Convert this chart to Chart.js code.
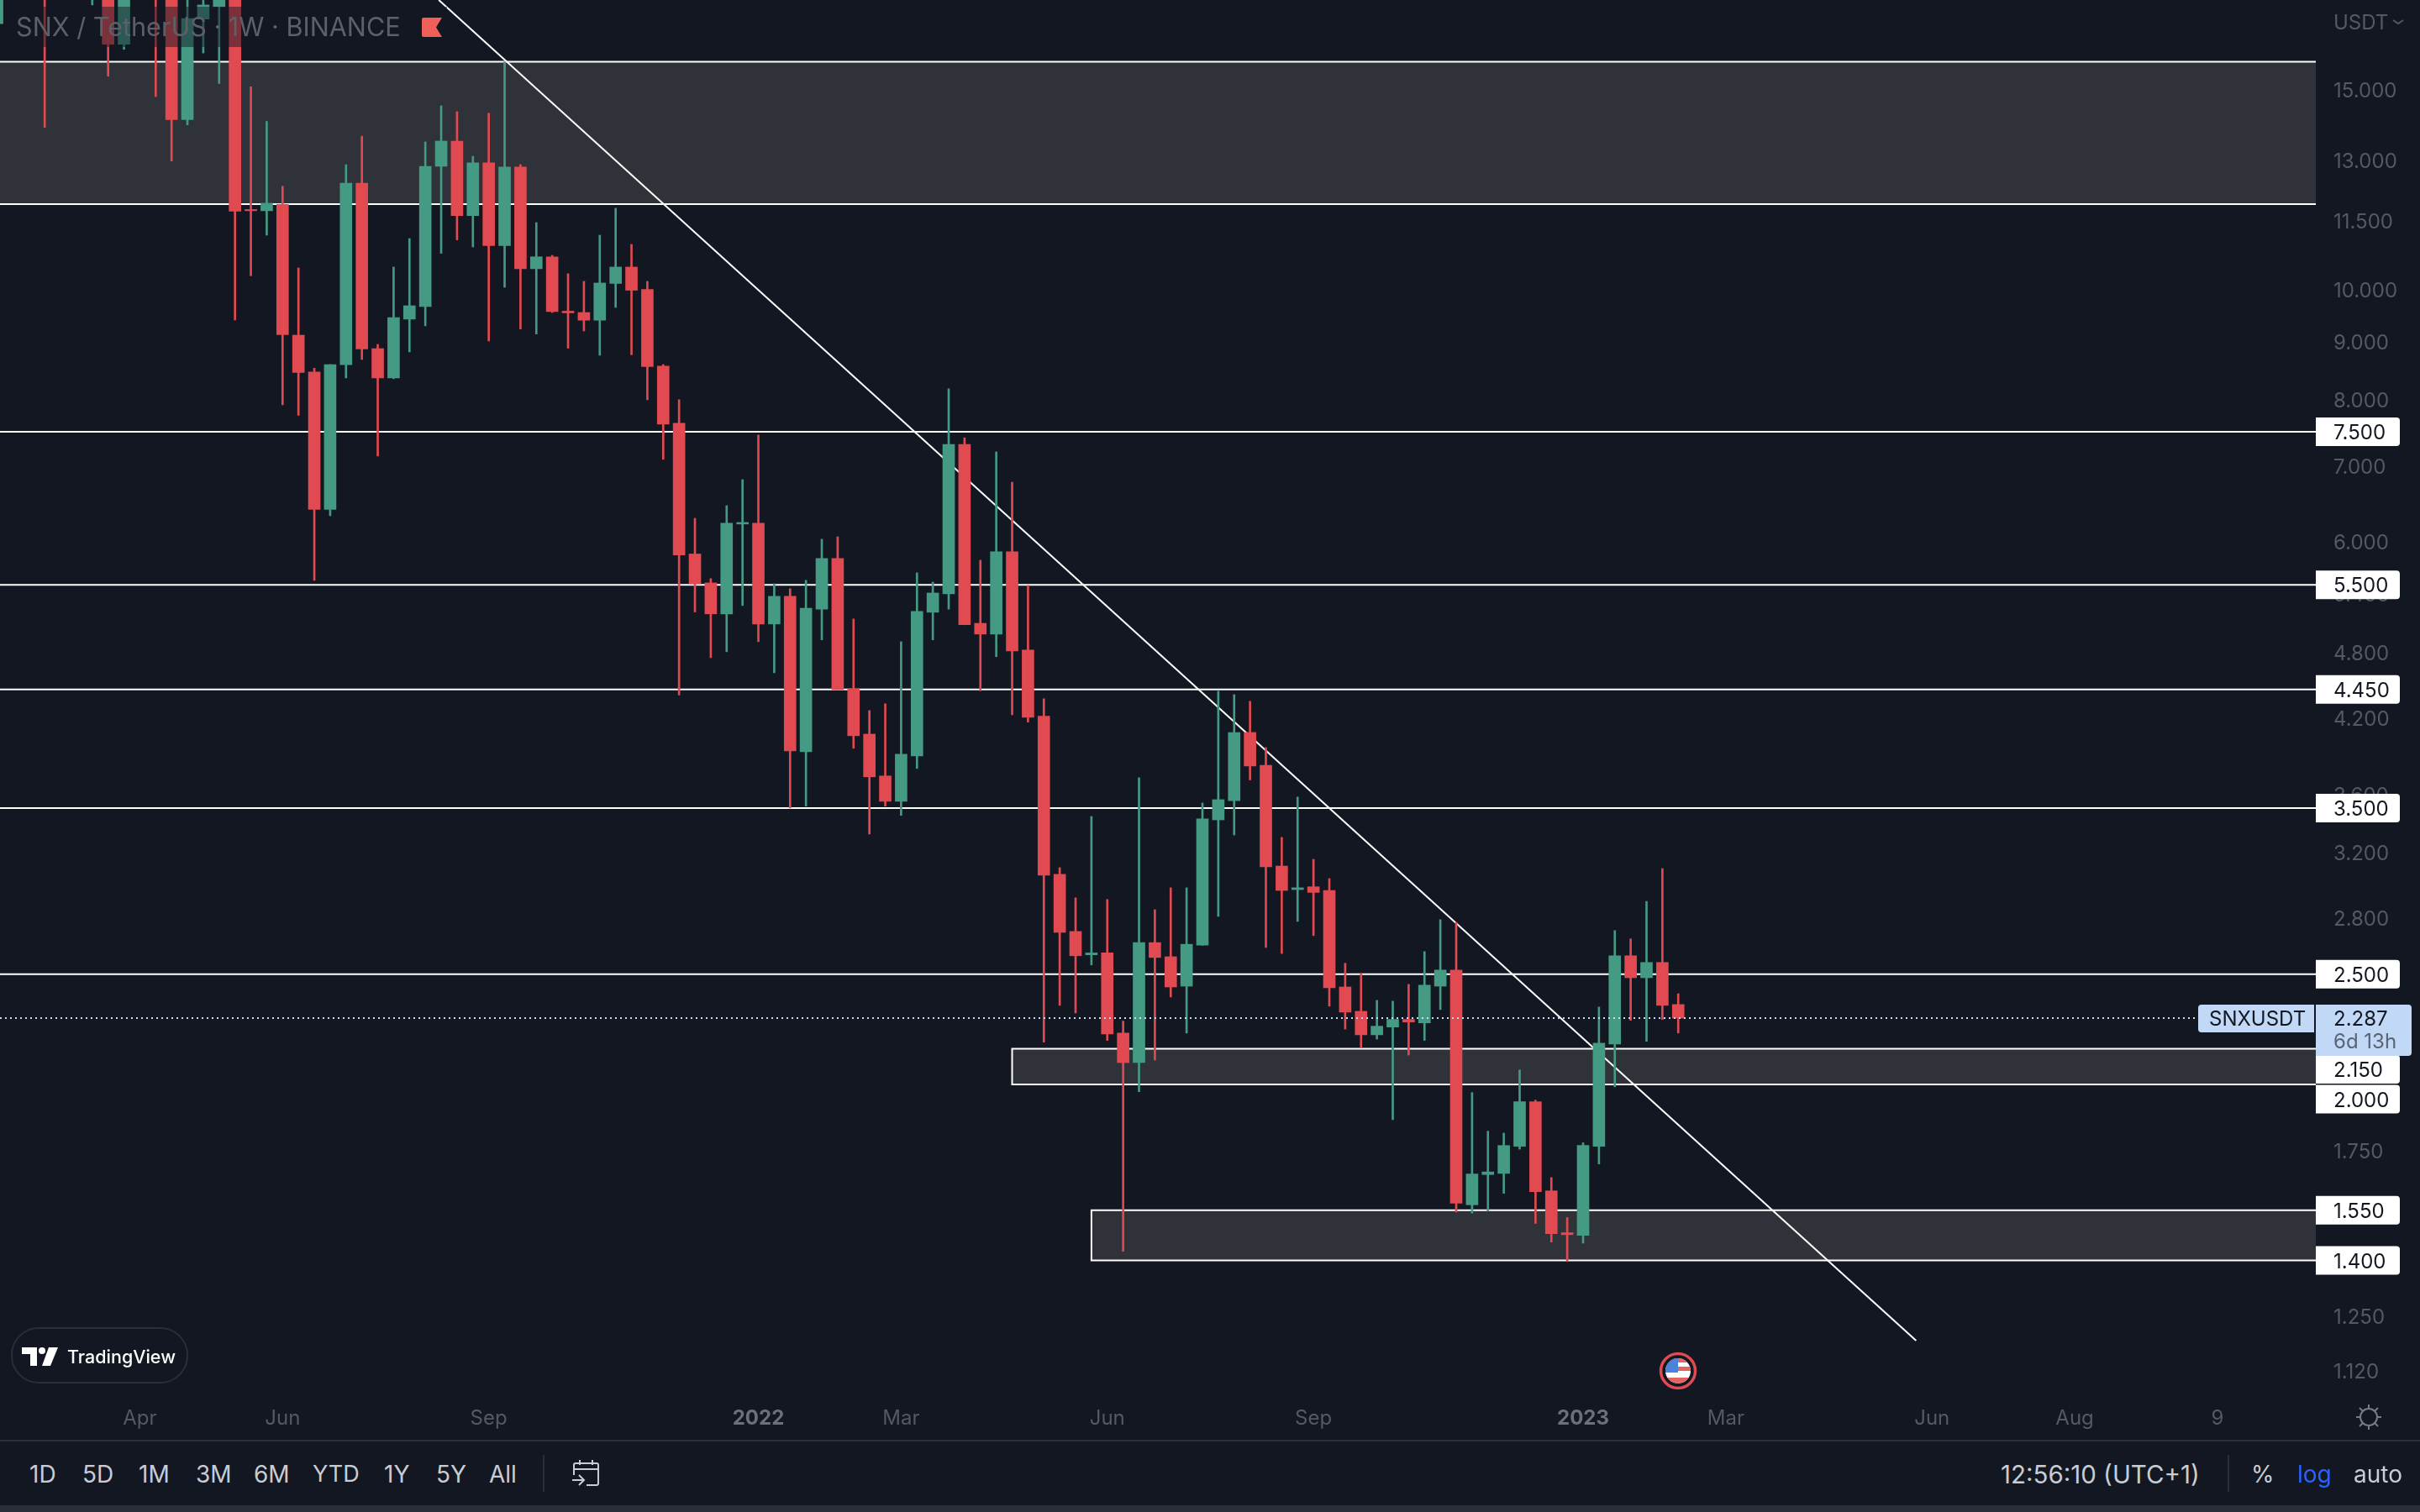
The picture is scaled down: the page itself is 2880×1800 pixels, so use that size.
<!DOCTYPE html>
<html>
<head>
<meta charset="utf-8">
<title>SNX / TetherUS</title>
<script src="https://cdn.jsdelivr.net/npm/chart.js@4/dist/chart.umd.min.js"></script>
<style>
    html, body { margin: 0; padding: 0; background: #131722; width: 2880px; height: 1800px; overflow: hidden; }
    body { position: relative; font-family: Inter, 'Noto Sans', sans-serif; }
    #chart { position: absolute; left: 0; top: 0; display: block; }
    .abs { position: absolute; white-space: nowrap; }
    .tool { position: absolute; top: 1755px; transform: translateY(-50%); font-size: 28px; line-height: 34px; color: #c8ccd4; white-space: nowrap; }
    .rule { position: absolute; top: 1732px; width: 2px; height: 44px; background: #2a2e39; }
</style>
</head>
<body>
<canvas id="chart" width="2880" height="1715"></canvas>

<!-- legend strip over the candles -->
<div class="abs" style="left:10px;top:8px;width:522px;height:48px;background:rgba(19,23,34,0.5)"></div>
<div class="abs" style="left:19px;top:32px;transform:translateY(-50%);font-size:30.6px;line-height:36px;color:#5d5f69">SNX / TetherUS · 1W · BINANCE</div>
<svg class="abs" style="left:502px;top:21px" width="24" height="23"><path d="M2 0H24L17 11.5L24 23H2a2 2 0 0 1-2-2V2a2 2 0 0 1 2-2z" fill="#f0605a"/></svg>

<!-- price axis header -->
<div class="abs" style="left:2777px;top:27px;transform:translateY(-50%);font-size:24px;line-height:30px;color:#565962">USDT</div>
<svg class="abs" style="left:2847px;top:22px" width="14" height="10"><path d="M1 2L7 6L13 2" fill="none" stroke="#565962" stroke-width="2"/></svg>

<!-- TradingView badge -->
<div class="abs" style="left:13px;top:1580px;width:207px;height:63px;border:2px solid #2a2e39;border-radius:33px"></div>
<svg class="abs" style="left:26px;top:1604px" width="44" height="22"><path d="M0 0H18V22H10V8H0z M32 0H43L34 22H24z" fill="#fff"/><circle cx="24" cy="4" r="4" fill="#fff"/></svg>
<div class="abs" style="left:80px;top:1615px;transform:translateY(-50%);font-size:21.5px;font-weight:500;line-height:28px;color:#fff">TradingView</div>

<!-- economic event marker -->
<svg class="abs" style="left:1974px;top:1609px" width="46" height="46">
    <defs><clipPath id="flagClip"><circle cx="23" cy="23" r="15"/></clipPath></defs>
    <circle cx="23" cy="23" r="20.5" fill="#131722" stroke="#e04a50" stroke-width="3.5"/>
    <g clip-path="url(#flagClip)">
        <rect x="8" y="8" width="30" height="30" fill="#fff"/>
        <rect x="8" y="8" width="30" height="5" fill="#e2655f"/>
        <rect x="8" y="18" width="30" height="5" fill="#e2655f"/>
        <rect x="8" y="31" width="30" height="7" fill="#e2655f"/>
        <rect x="8" y="8" width="15" height="17" fill="#4a82dc"/>
    </g>
</svg>

<!-- time axis settings -->
<svg class="abs" style="left:2803px;top:1671px" width="32" height="32"><g fill="none" stroke="#787b86" stroke-width="2"><circle cx="16" cy="16" r="10"/><path d="M16 1V6M16 26V31M1 16H6M26 16H31M5 5L9 9M27 5L23 9M5 27L9 23M27 27L23 23"/></g></svg>

<!-- bottom toolbar -->
<div class="abs" style="left:0;top:1714px;width:2880px;height:2px;background:#2a2e39"></div>
<div class="abs" style="left:0;top:1792px;width:2880px;height:8px;background:#2a2e39"></div>
<span class="tool" style="left:35px">1D</span>
<span class="tool" style="left:98px">5D</span>
<span class="tool" style="left:165px">1M</span>
<span class="tool" style="left:233px">3M</span>
<span class="tool" style="left:302px">6M</span>
<span class="tool" style="left:372px;font-size:27px">YTD</span>
<span class="tool" style="left:457px">1Y</span>
<span class="tool" style="left:519px">5Y</span>
<span class="tool" style="left:582px">All</span>
<div class="rule" style="left:646px"></div>
<svg class="abs" style="left:680px;top:1738px" width="34" height="32"><g fill="none" stroke="#c8ccd4" stroke-width="2"><path d="M3 18V6a2 2 0 0 1 2-2H30a2 2 0 0 1 2 2V28a2 2 0 0 1-2 2H18M3 11H32M10 0V6M25 0V6M1 24H14M9 18L15 24L9 30"/></g></svg>
<span class="tool" style="left:2381px;font-size:29.5px">12:56:10 (UTC+1)</span>
<div class="rule" style="left:2651px"></div>
<span class="tool" style="left:2679px">%</span>
<span class="tool" style="left:2734px;color:#2962ff">log</span>
<span class="tool" style="left:2801px">auto</span>

<script>
// Weekly candles, first slot is the partly hidden candle at the left edge.
// Empty slots are weeks that sit completely above the visible range.
const opens = [17.14, null, null, 20.5, null, null, 18.6, 19.0, 16.44, null, 20.0, 18.7, 14.11, 17.30, 17.74,
    18.5, 11.762, 11.733, 11.887, 9.120, 8.463, 6.407, 8.589, 12.409, 8.875, 8.363, 9.421, 9.664, 12.839, 13.511,
    11.618, 12.931, 10.933, 12.821, 10.433, 10.688, 9.574, 9.548, 9.400, 10.127, 10.469, 10.004, 8.565, 7.629, 5.855,
    5.522, 5.186, 6.221, 6.231, 5.081, 5.374, 3.923, 5.236, 5.802, 4.457, 4.065, 3.735, 3.548, 3.890, 5.203,
    5.401, 7.311, 5.088, 4.978, 5.881, 4.820, 4.215, 3.060, 2.726, 2.600, 2.610, 2.219, 2.090, 2.665, 2.590,
    2.440, 2.651, 3.417, 3.552, 4.079, 3.817, 3.112, 2.967, 2.984, 2.962, 2.436, 2.319, 2.211, 2.246, 2.281,
    2.265, 2.440, 2.521, 1.567, 1.666, 1.670, 1.764, 1.931, 1.612, 1.481, 1.473, 1.764, 2.170, 2.595, 2.482,
    2.560, 2.351];
const closes = [19.2, null, null, 19.0, null, null, 19.4, 16.44, 18.6, null, 18.8, 14.11, 17.32, 17.80, 18.4,
    11.721, 11.733, 11.914, 9.128, 8.456, 6.407, 8.593, 12.409, 8.868, 8.363, 9.452, 9.680, 12.839, 13.511, 11.618,
    12.931, 10.933, 12.821, 10.433, 10.688, 9.565, 9.541, 9.400, 10.136, 10.469, 9.988, 8.556, 7.616, 5.843, 5.512,
    5.186, 6.231, 6.241, 5.081, 5.374, 3.930, 5.245, 5.802, 4.449, 4.052, 3.728, 3.548, 3.903, 5.212, 5.410,
    7.311, 5.073, 4.978, 5.881, 4.812, 4.207, 3.055, 2.721, 2.595, 2.610, 2.215, 2.090, 2.665, 2.586, 2.436,
    2.656, 3.424, 3.560, 4.079, 3.811, 3.107, 2.962, 2.978, 2.950, 2.432, 2.315, 2.211, 2.250, 2.281, 2.269,
    2.445, 2.521, 1.572, 1.668, 1.675, 1.767, 1.931, 1.609, 1.478, 1.475, 1.767, 2.174, 2.595, 2.482, 2.560,
    2.347, 2.287];
const highs = [20.0, null, null, 21.0, null, null, 20.0, 19.6, 19.5, null, 20.5, 19.5, 19.0, 18.6, 19.0,
    19.2, 15.083, 14.061, 12.329, 10.451, 8.529, 8.593, 12.882, 13.649, 8.951, 10.469, 11.092, 13.488, 14.512, 14.341,
    13.103, 14.292, 15.867, 12.882, 11.456, 10.721, 10.328, 10.170, 11.167, 11.793, 10.961, 10.170, 8.593, 8.001, 6.294,
    5.570, 6.457, 6.807, 7.450, 5.512, 5.457, 5.550, 6.033, 6.063, 5.133, 4.264, 4.323, 4.902, 5.636, 5.531,
    8.180, 7.408, 5.782, 7.200, 6.772, 5.494, 4.367, 3.102, 2.918, 3.441, 2.908, 2.273, 3.722, 2.849, 2.978,
    2.978, 3.536, 4.435, 4.404, 4.345, 3.956, 3.298, 3.579, 3.155, 3.034, 2.556, 2.504, 2.371, 2.367, 2.449,
    2.617, 2.792, 2.777, 1.967, 1.819, 1.812, 2.059, 1.937, 1.656, 1.527, 1.777, 2.339, 2.731, 2.685, 2.897,
    3.096, 2.403];
const lows = [17.14, null, null, 13.893, null, null, 17.80, 15.408, 16.27, null, 14.786, 12.976, 13.964, 16.15, 15.18,
    9.404, 10.286, 11.167, 7.920, 7.753, 5.550, 6.327, 8.363, 8.681, 7.140, 8.349, 8.816, 9.293, 10.765, 11.061,
    10.904, 9.012, 10.051, 9.235, 9.142, 9.548, 8.882, 9.198, 8.756, 9.647, 8.765, 8.001, 7.092, 4.400, 5.206,
    4.746, 4.803, 5.275, 4.902, 4.603, 3.500, 3.513, 4.920, 4.449, 3.950, 3.320, 3.513, 3.448, 3.792, 4.920,
    5.236, 5.073, 4.438, 4.755, 4.227, 4.165, 2.178, 2.347, 2.311, 2.547, 2.186, 1.426, 1.970, 2.101, 2.387,
    2.219, 2.651, 2.811, 3.314, 3.705, 2.639, 2.607, 2.782, 2.703, 2.343, 2.237, 2.156, 2.192, 1.862, 2.122,
    2.186, 2.327, 1.544, 1.541, 1.547, 1.604, 1.754, 1.509, 1.453, 1.397, 1.450, 1.702, 1.990, 2.277, 2.182,
    2.281, 2.219];

// Horizontal levels and zones drawn on the chart
const levelPrices = [7.5, 5.5, 4.45, 3.5, 2.5];
const zoneHighs = [15.87, 2.15, 1.55];
const zoneLows = [11.89, 2.0, 1.4];
const zoneStartWeeks = [0, 64, 69];
const axisLabelPrices = [7.5, 5.5, 4.45, 3.5, 2.5, 2.15, 2.0, 1.55, 1.4];

// Descending trendline and last price
const trendWeeks = [27.85, 121];
const trendPrices = [17.98, 1.19];
const lastPrice = 2.287;
const lastPriceEndWeek = 138.6;

// Axis ticks
const priceTicks = [15, 13, 11.5, 10, 9, 8, 7, 6, 5.4, 4.8, 4.2, 3.6, 3.2, 2.8, 1.75, 1.25, 1.12];
const timeTickWeeks = [9, 18, 31, 48, 57, 70, 83, 100, 109, 122, 131, 140];
const timeTickLabels = ['Apr', 'Jun', 'Sep', '2022', 'Mar', 'Jun', 'Sep', '2023', 'Mar', 'Jun', 'Aug', '9'];

// Visible ranges
const weekMin = 0.183;
const weekMax = 146.2;
const priceMin = 1.0765;
const priceMax = 17.98;

const UP_COLOR = '#459a84';
const DOWN_COLOR = '#e04a50';
const LINE_COLOR = '#ffffff';
const ZONE_COLOR = '#303239';
const AXIS_FONT = 'Inter, sans-serif';

const candleColors = opens.map((open, i) => closes[i] >= open ? UP_COLOR : DOWN_COLOR);
const bodyData = opens.map((open, i) => ({ x: i, y: open === null ? null : [open, closes[i]] }));
const wickData = lows.map((low, i) => ({ x: i, y: low === null ? null : [low, highs[i]] }));

/**
 * Year ticks are bold on the time axis
 */
function isYearTick(ctx) {
    const label = timeTickLabels[ctx.index];
    return !!label && label.length === 4;
}

/**
 * Thin straight line dataset, drawn behind the candles
 */
function lineDataset(points, extra = {}) {
    return Object.assign({
        type: 'line',
        data: points,
        borderColor: LINE_COLOR,
        borderWidth: 2,
        pointRadius: 0,
        tension: 0,
        fill: false,
        order: 5
    }, extra);
}

/**
 * Zone = filled band plus a white outline open on the right
 */
function zoneDatasets(index) {
    const hi = zoneHighs[index];
    const lo = zoneLows[index];
    const start = zoneStartWeeks[index];
    return [
        lineDataset([{ x: start, y: hi }, { x: weekMax, y: hi }], {
            borderWidth: 0,
            fill: { value: lo },
            backgroundColor: ZONE_COLOR,
            order: 10
        }),
        lineDataset([
            { x: weekMax, y: lo }, { x: start, y: lo }, { x: start, y: hi }, { x: weekMax, y: hi }
        ])
    ];
}

// Boxes on the price axis, shifted a little where they would overlap
const labelShift = { 2.15: 24.5, 2: 17.6 };

const priceLabelsPlugin = {
    id: 'priceLabels',
    afterDraw(chart) {
        const { ctx, scales: { y }, chartArea } = chart;
        const left = chartArea.right;

        ctx.save();
        ctx.font = '24px ' + AXIS_FONT;
        ctx.textBaseline = 'middle';
        ctx.textAlign = 'left';

        axisLabelPrices.forEach(price => {
            const cy = y.getPixelForValue(price) + (labelShift[price] || 0);
            ctx.fillStyle = '#ffffff';
            ctx.beginPath();
            ctx.roundRect(left, cy - 17, 100, 34, [0, 4, 4, 0]);
            ctx.fill();
            ctx.fillStyle = '#131722';
            ctx.fillText(price.toFixed(3), left + 21, cy + 2);
        });

        // last price box with symbol name and countdown
        const cy = y.getPixelForValue(lastPrice);
        ctx.fillStyle = '#c1d8f7';
        ctx.beginPath();
        ctx.roundRect(left - 140, cy - 16, 138, 33, [4, 0, 0, 4]);
        ctx.fill();
        ctx.beginPath();
        ctx.roundRect(left, cy - 16, 114, 61, [0, 4, 4, 0]);
        ctx.fill();
        ctx.fillStyle = '#131722';
        ctx.fillText('SNXUSDT', left - 127, cy + 2);
        ctx.fillText(lastPrice.toFixed(3), left + 21, cy + 2);
        ctx.fillStyle = '#5a6573';
        ctx.fillText('6d 13h', left + 21, cy + 29);
        ctx.restore();
    }
};

const datasets = [
    {
        type: 'bar',
        data: bodyData,
        backgroundColor: candleColors,
        barThickness: 14,
        grouped: false,
        order: 2
    },
    {
        type: 'bar',
        data: wickData,
        backgroundColor: candleColors,
        barThickness: 2,
        grouped: false,
        order: 3
    },
    lineDataset(trendWeeks.map((week, i) => ({ x: week, y: trendPrices[i] })), { order: 4 }),
    lineDataset([{ x: weekMin, y: lastPrice }, { x: lastPriceEndWeek, y: lastPrice }], {
        borderColor: '#c8dcf8',
        borderDash: [2, 4],
        order: 1
    })
];
levelPrices.forEach(price => {
    datasets.push(lineDataset([{ x: weekMin, y: price }, { x: weekMax, y: price }]));
});
zoneHighs.forEach((_, i) => datasets.push(...zoneDatasets(i)));

new Chart(document.getElementById('chart').getContext('2d'), {
    data: { datasets: datasets },
    plugins: [priceLabelsPlugin],
    options: {
        responsive: false,
        animation: false,
        devicePixelRatio: 1,
        layout: { padding: 0, autoPadding: false },
        plugins: {
            legend: { display: false },
            tooltip: { enabled: false }
        },
        scales: {
            x: {
                type: 'linear',
                min: weekMin,
                max: weekMax,
                bounds: 'data',
                offset: false,
                grid: { display: false, drawTicks: false },
                border: { display: false },
                afterFit: scale => {
                    // the plot fills the whole pane, no room kept for edge labels
                    scale.height = 60;
                    scale.paddingLeft = 0;
                    scale.paddingRight = 0;
                },
                afterBuildTicks: scale => {
                    scale.ticks = timeTickWeeks.map(week => ({ value: week }));
                },
                ticks: {
                    autoSkip: false,
                    maxRotation: 0,
                    padding: 19,
                    font: ctx => ({
                        family: AXIS_FONT,
                        size: 24,
                        weight: isYearTick(ctx) ? '700' : '400'
                    }),
                    color: ctx => isYearTick(ctx) ? '#6d707a' : '#565962',
                    callback: (value, index) => timeTickLabels[index]
                }
            },
            y: {
                type: 'logarithmic',
                position: 'right',
                min: priceMin,
                max: priceMax,
                bounds: 'data',
                grid: { display: false, drawTicks: false },
                border: { display: false },
                afterFit: scale => {
                    scale.width = 124;
                    scale.paddingTop = 0;
                    scale.paddingBottom = 0;
                },
                afterBuildTicks: scale => {
                    scale.ticks = priceTicks.map(price => ({ value: price }));
                },
                ticks: {
                    autoSkip: false,
                    padding: 21,
                    labelOffset: 2,
                    font: { family: AXIS_FONT, size: 24 },
                    color: '#565962',
                    callback: value => value.toFixed(3)
                }
            }
        }
    }
});
</script>
</body>
</html>
